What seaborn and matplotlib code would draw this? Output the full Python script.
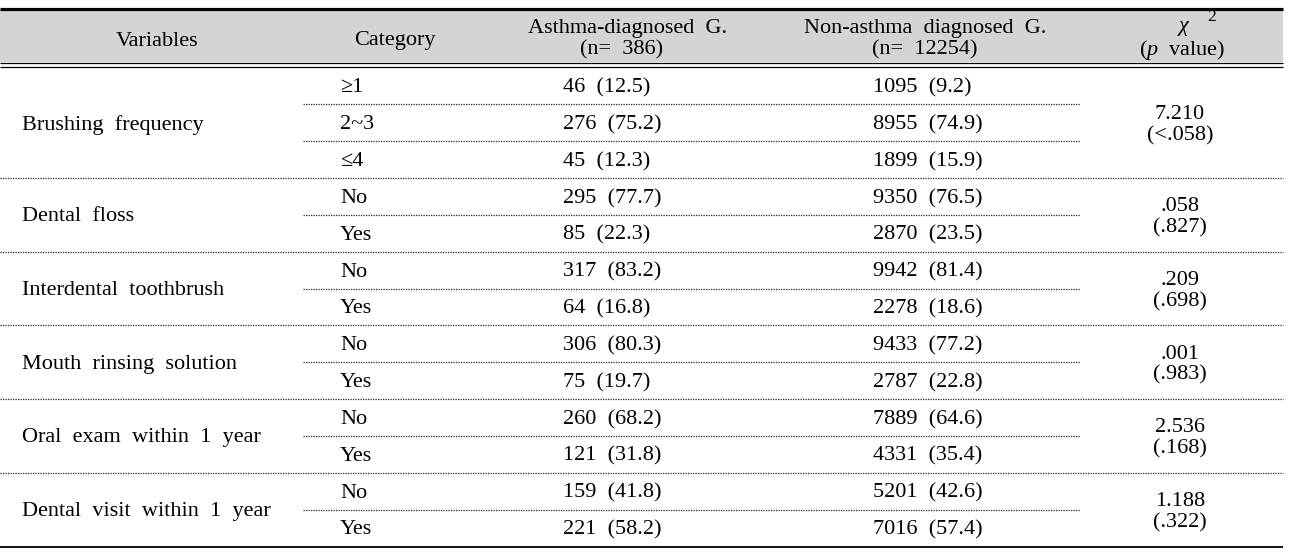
import matplotlib
matplotlib.use("Agg")
import matplotlib.pyplot as plt
import seaborn as sns

# table data
header_vars = "Variables"
header_cat = "Category"
header_asthma = ["Asthma-diagnosed  G.", "(n=  386)"]
header_non = ["Non-asthma  diagnosed  G.", "(n=  12254)"]

variables = ["Brushing  frequency", "Dental  floss", "Interdental  toothbrush",
             "Mouth  rinsing  solution", "Oral  exam  within  1  year",
             "Dental  visit  within  1  year"]
categories = [["≥1", "2~3", "≤4"], ["No", "Yes"], ["No", "Yes"],
              ["No", "Yes"], ["No", "Yes"], ["No", "Yes"]]
asthma_n = [[46, 276, 45], [295, 85], [317, 64], [306, 75], [260, 121], [159, 221]]
asthma_pct = [[12.5, 75.2, 12.3], [77.7, 22.3], [83.2, 16.8], [80.3, 19.7],
              [68.2, 31.8], [41.8, 58.2]]
non_n = [[1095, 8955, 1899], [9350, 2870], [9942, 2278], [9433, 2787],
         [7889, 4331], [5201, 7016]]
non_pct = [[9.2, 74.9, 15.9], [76.5, 23.5], [81.4, 18.6], [77.2, 22.8],
           [64.6, 35.4], [42.6, 57.4]]
chi2 = ["7.210", ".058", ".209", ".001", "2.536", "1.188"]
pvals = ["(<.058)", "(.827)", "(.698)", "(.983)", "(.168)", "(.322)"]

sns.set_theme(style="white")
plt.rcParams["font.family"] = ["Liberation Serif", "DejaVu Serif"]
plt.rcParams["mathtext.fontset"] = "custom"
plt.rcParams["mathtext.rm"] = "Liberation Serif"
plt.rcParams["mathtext.it"] = "Liberation Serif:italic"

fig = plt.figure(figsize=(12.94, 5.54), dpi=100)
ax = fig.add_axes([0, 0, 1, 1])
ax.set_xlim(0, 1294)
ax.set_ylim(554, 0)
ax.axis("off")

fs = 16.0
col = "black"
x_left, x_right = 0, 1283
dy = 2  # small downward nudge of text

# header
ax.axhspan(10, 62, xmin=x_left / 1294, xmax=x_right / 1294, color="#d4d4d4", lw=0)
ax.hlines(8.5, x_left, x_right, color="black", lw=2.3)
ax.hlines([63, 67], x_left, x_right, color="black", lw=0.9)

ax.text(157, 39 + dy, header_vars, ha="center", va="center", fontsize=fs, color=col)
ax.text(395, 39 + dy, header_cat, ha="center", va="center", fontsize=fs, color=col)
ax.text(628, 27 + dy, header_asthma[0], ha="center", va="center", fontsize=fs, color=col)
ax.text(622, 48 + dy, header_asthma[1], ha="center", va="center", fontsize=fs, color=col)
ax.text(925, 27 + dy, header_non[0], ha="center", va="center", fontsize=fs, color=col)
ax.text(925, 48 + dy, header_non[1], ha="center", va="center", fontsize=fs, color=col)
ax.text(1184, 27, "χ", ha="center", va="center", fontsize=fs, color=col, style="italic")
ax.text(1212, 17, "2", ha="center", va="center", fontsize=fs * 0.78, color=col)
ax.text(1182, 48 + dy, r"($p$  value)", ha="center", va="center", fontsize=fs, color=col)

# body
row_y0, row_h = 86, 36.83
r = 0
for g, var in enumerate(variables):
    n_rows = len(categories[g])
    ys = [row_y0 + (r + i) * row_h for i in range(n_rows)]
    yc = (ys[0] + ys[-1]) / 2
    ax.text(22, yc + dy, var, ha="left", va="center", fontsize=fs, color=col)
    ax.text(1180, yc - 10 + dy, chi2[g], ha="center", va="center", fontsize=fs, color=col)
    ax.text(1180, yc + 11 + dy, pvals[g], ha="center", va="center", fontsize=fs, color=col)
    for i in range(n_rows):
        ax.text(340, ys[i] + dy, categories[g][i], ha="left", va="center", fontsize=fs, color=col)
        ax.text(563, ys[i] + dy, f"{asthma_n[g][i]}  ({asthma_pct[g][i]})",
                ha="left", va="center", fontsize=fs, color=col)
        ax.text(873, ys[i] + dy, f"{non_n[g][i]}  ({non_pct[g][i]})",
                ha="left", va="center", fontsize=fs, color=col)
        if i < n_rows - 1:
            ax.hlines(ys[i] + row_h / 2, 303, 1080, color="#222222", lw=0.9,
                      linestyle=(0, (1, 1)))
    bottom = ys[-1] + row_h / 2
    if g < len(variables) - 1:
        ax.hlines(bottom, x_left, x_right, color="#222222", lw=0.9, linestyle=(0, (1, 1)))
    else:
        ax.hlines(bottom + 1, x_left, x_right, color="black", lw=1.3)
    r += n_rows

fig.savefig("out.png", dpi=100)
